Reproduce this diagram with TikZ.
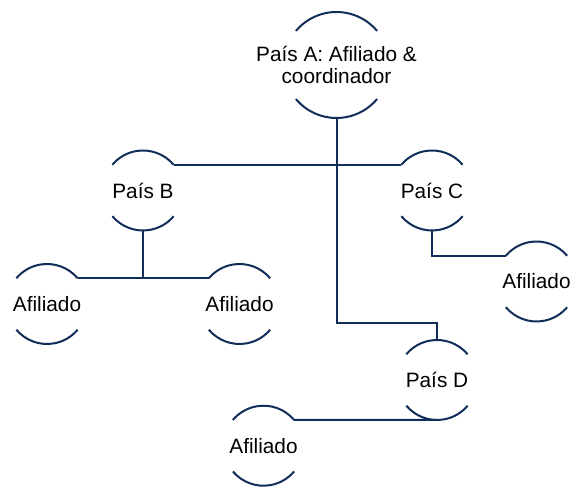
\documentclass[tikz,border=0pt]{standalone}
\usepackage{fontspec}
\setmainfont{Liberation Sans}
\usetikzlibrary{positioning}
\definecolor{azul}{RGB}{17,45,89}
\tikzset{linea/.style={draw=azul,line width=2pt}}
% the two arcs (top and bottom) around a country node
\newcommand{\arcos}[2]{%
  \draw[linea] (#1.40) arc[start angle=40,end angle=140,radius=#2]
               (#1.220) arc[start angle=220,end angle=320,radius=#2];}

\begin{document}
\begin{tikzpicture}[x=1pt,y=1pt,on grid,
    pais/.style={circle,minimum size=80pt,inner sep=0pt,outer sep=0pt,
                 font=\fontsize{20.8}{22}\selectfont}]
  \useasboundingbox (0,0) rectangle (573,489);

  \node[pais,minimum size=106pt,
        label={[align=center,font=\fontsize{20.8}{22}\selectfont]center:{País A: Afiliado \&\\coordinador}}]
        (A) at (336.5,424) {};
  \node[pais] (B) [below left=125.5pt and 193.5pt of A] {País B};
  \node[pais] (C) [below right=125.5pt and 95.5pt of A] {País C};
  \node[pais] (D) [below right=315pt and 100.5pt of A] {País D};
  \node[pais] (B1) [below left=113.5pt and 96pt of B] {Afiliado};
  \node[pais] (B2) [below right=113.5pt and 96.5pt of B] {Afiliado};
  \node[pais] (C1) [below right=91pt and 104.5pt of C] {Afiliado};
  \node[pais] (D1) [below left=65.71pt and 173.5pt of D] {Afiliado};

  \foreach \n/\r in {A/53pt,B/40pt,C/40pt,D/40pt,B1/40pt,B2/40pt,C1/40pt,D1/40pt}
    {\arcos{\n}{\r}}

  \coordinate[below=205pt of A.south] (codo);

  \draw[linea] (B.40) -- (C.140);
  \draw[linea] (A.south) -- (codo) -| (D.north);
  \draw[linea] (B1.40) -- (B2.140);
  \draw[linea] (B.south) -- (B.south |- B1.40);
  \draw[linea] (C.south) |- (C1.140);
  \draw[linea] (D.south) -- (D1.40);
\end{tikzpicture}
\end{document}
